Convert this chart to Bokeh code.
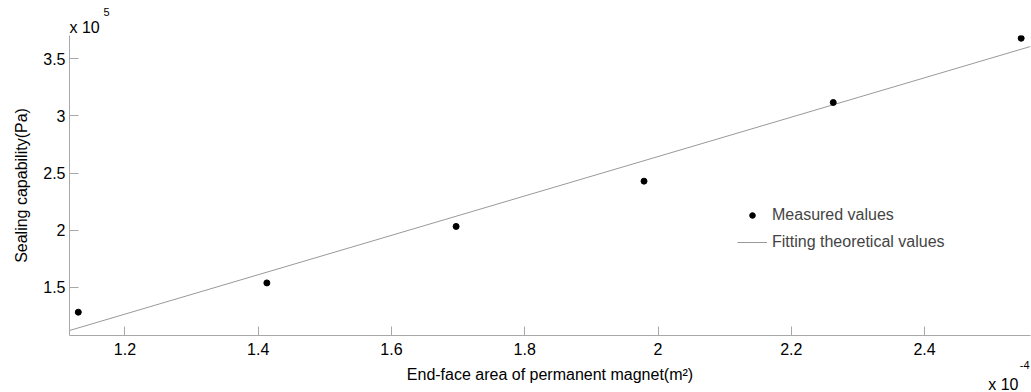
from bokeh.plotting import figure
from bokeh.models import Range1d, FixedTicker, Title, Legend, LegendItem
from bokeh.embed import file_html
from bokeh.resources import INLINE

# Data (x in 1e-4 m^2, y in 1e5 Pa)
area = [1.130, 1.413, 1.697, 1.979, 2.263, 2.545]
pressure = [1.284, 1.540, 2.034, 2.430, 3.118, 3.680]
fit_x = [1.117, 2.559]
fit_y = [1.124, 3.608]

x_ticks = [1.2, 1.4, 1.6, 1.8, 2.0, 2.2, 2.4]
x_tick_labels = ["1.2", "1.4", "1.6", "1.8", "2", "2.2", "2.4"]
y_ticks = [1.5, 2.0, 2.5, 3.0, 3.5]
y_tick_labels = ["1.5", "2", "2.5", "3", "3.5"]

FONT = "Liberation Sans"
AX = "#a8a8a8"

xmin, xmax = 1.1168, 2.559
ymin, ymax = 1.08, 3.704

p = figure(width=1031, height=392, output_backend="svg", toolbar_location=None,
           x_range=Range1d(xmin, xmax), y_range=Range1d(ymin, ymax),
           min_border_left=69, min_border_right=1, min_border_top=35, min_border_bottom=57)
p.outline_line_color = None
p.grid.visible = False
p.background_fill_color = "white"

fit = p.line(fit_x, fit_y, line_color="#999999", line_width=1)
meas = p.scatter(area, pressure, size=6, fill_color="black", line_color="black")

for ax, ticks, labels in ((p.xaxis[0], x_ticks, x_tick_labels), (p.yaxis[0], y_ticks, y_tick_labels)):
    ax.ticker = FixedTicker(ticks=ticks)
    ax.major_label_overrides = {t: l for t, l in zip(ticks, labels)}
    ax.axis_line_color = AX
    ax.major_tick_line_color = AX
    ax.minor_tick_line_color = None
    ax.major_tick_in = 9
    ax.major_tick_out = 0
    ax.major_label_text_font = FONT
    ax.major_label_text_font_size = "16px"
    ax.major_label_text_color = "black"
    ax.axis_label_text_font = FONT
    ax.axis_label_text_font_size = "16px"
    ax.axis_label_text_font_style = "normal"
    ax.axis_label_text_color = "black"

p.xaxis[0].axis_label = "End-face area of permanent magnet(m²)"
p.xaxis[0].major_label_standoff = 7
p.xaxis[0].axis_label_standoff = 8
p.yaxis[0].axis_label = "Sealing capability(Pa)"
p.yaxis[0].major_label_standoff = 4
p.yaxis[0].axis_label_standoff = 10


def exp_title(text, size, align, offset, valign, standoff):
    return Title(text=text, align=align, offset=offset, vertical_align=valign,
                 standoff=standoff, text_font=FONT, text_font_size=size,
                 text_font_style="normal", text_color="black")


# y exponent (top-left): "x 10" then raised "5"
p.add_layout(exp_title("x 10", "16px", "left", 0, "bottom", 0), "above")
p.add_layout(exp_title("5", "11px", "left", 34, "bottom", 2), "above")
# x exponent (bottom-right): "x 10" then raised "-4"
p.add_layout(exp_title("x 10", "16px", "right", 12, "top", -20), "below")
p.add_layout(exp_title("-4", "11px", "right", 1, "top", -50), "below")

legend = Legend(items=[LegendItem(label="Measured values", renderers=[meas]),
                       LegendItem(label="Fitting theoretical values", renderers=[fit])],
                location=(668, 83), padding=0, margin=0, spacing=7,
                glyph_width=30, glyph_height=14, label_height=20, label_standoff=5,
                label_text_font=FONT, label_text_font_size="16px",
                border_line_alpha=0, background_fill_alpha=0)
p.add_layout(legend)

open("out.html", "w").write(file_html(p, INLINE))
